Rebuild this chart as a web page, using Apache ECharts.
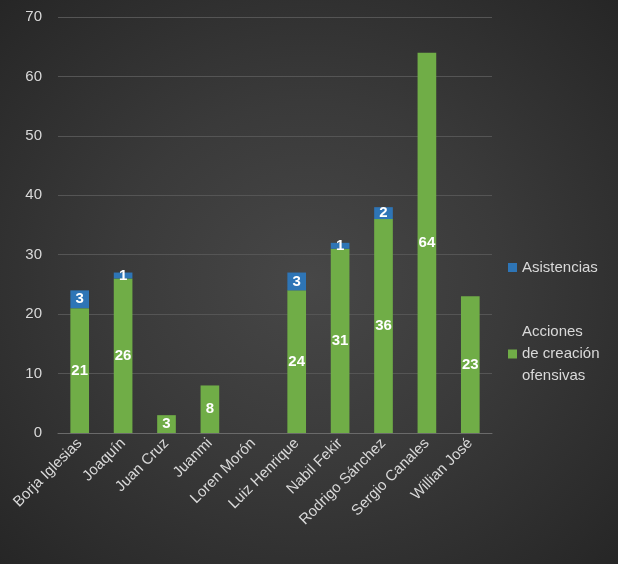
<!DOCTYPE html><html><head><meta charset="utf-8">
<script src="https://cdn.jsdelivr.net/npm/echarts@6/dist/echarts.min.js"></script>
<style>html,body{margin:0;padding:0;}#c{width:618px;height:564px;background:radial-gradient(ellipse at center,#474747 0%,#3a3a3a 45%,#262626 100%);}</style>
</head><body><div id="c"></div>
<script>
const categories=["Borja Iglesias","Joaquín","Juan Cruz","Juanmi","Loren Morón","Luiz Henrique","Nabil Fekir","Rodrigo Sánchez","Sergio Canales","Willian José"];
const acciones=[21,26,3,8,0,24,31,36,64,23];
const asistencias=[3,1,0,0,0,3,1,2,0,0];
const yTicks=[0,10,20,30,40,50,60,70];
const chart=echarts.init(document.getElementById('c'));
const lbl={show:true,position:'inside',color:'#fff',fontWeight:'bold',fontSize:15,fontFamily:'Liberation Sans',formatter:p=>p.value?p.value:''};
chart.setOption({
 textStyle:{fontFamily:'Liberation Sans'},
 grid:{left:58,right:126,top:17,bottom:131,containLabel:false},
 legend:[{data:['Asistencias'],left:503,top:255,orient:'vertical',itemWidth:9,itemHeight:9,icon:'rect',textStyle:{color:'#d9d9d9',fontSize:15}},
  {data:['Acciones de creación ofensivas'],left:503,top:316,orient:'vertical',itemWidth:9,itemHeight:9,icon:'rect',formatter:()=>'Acciones\nde creación\nofensivas',textStyle:{color:'#d9d9d9',fontSize:15,lineHeight:22}}],
 xAxis:{type:'category',data:categories,axisTick:{show:false},axisLine:{lineStyle:{color:'#6a6a6a'}},axisLabel:{rotate:45,color:'#d9d9d9',fontSize:15,interval:0,margin:8}},
 yAxis:{type:'value',min:0,max:70,interval:10,axisLabel:{color:'#d9d9d9',fontSize:15,margin:16},splitLine:{lineStyle:{color:'#555'}},axisLine:{show:false}},
 series:[
  {name:'Acciones de creación ofensivas',type:'bar',stack:'a',data:acciones,barWidth:'43%',itemStyle:{color:'#70ad47'},label:lbl},
  {name:'Asistencias',type:'bar',stack:'a',data:asistencias,itemStyle:{color:'#2e75b6'},label:lbl}
 ]
});
</script></body></html>
